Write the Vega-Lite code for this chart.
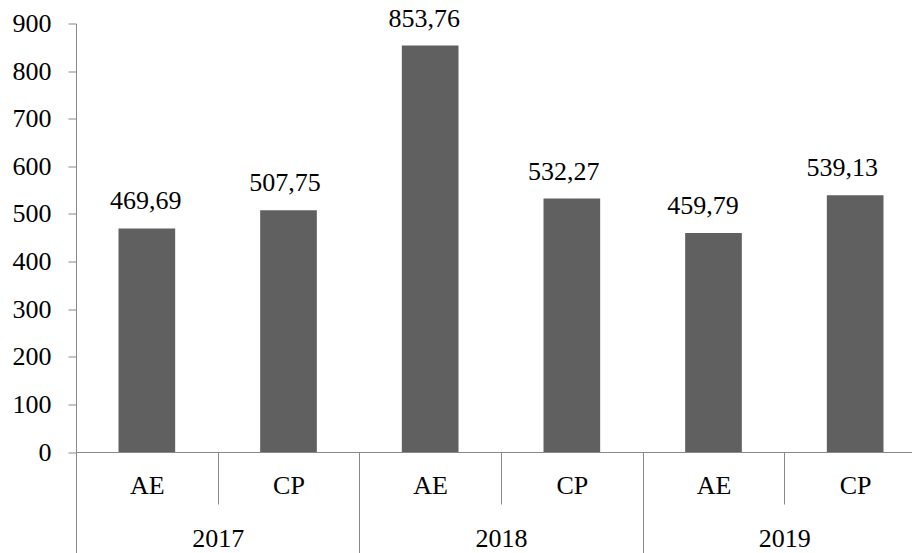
{
  "$schema": "https://vega.github.io/schema/vega-lite/v6.json",
  "width": 836,
  "height": 428.5,
  "autosize": {"type": "none"},
  "padding": {"left": 76, "top": 23.5, "right": 0, "bottom": 101},
  "background": "white",
  "data": {
    "values": [
      {"id": "2017 AE", "year": "2017", "type": "AE", "value": 469.69},
      {"id": "2017 CP", "year": "2017", "type": "CP", "value": 507.75},
      {"id": "2018 AE", "year": "2018", "type": "AE", "value": 853.76},
      {"id": "2018 CP", "year": "2018", "type": "CP", "value": 532.27},
      {"id": "2019 AE", "year": "2019", "type": "AE", "value": 459.79},
      {"id": "2019 CP", "year": "2019", "type": "CP", "value": 539.13}
    ]
  },
  "config": {
    "locale": {
      "number": {"decimal": ",", "thousands": ".", "grouping": [3], "currency": ["", " €"]}
    },
    "font": "Liberation Serif",
    "view": {"stroke": null},
    "axis": {
      "labelFont": "Liberation Serif",
      "labelFontSize": 26,
      "labelColor": "#000000",
      "domainColor": "#898989",
      "tickColor": "#898989",
      "domainWidth": 1,
      "tickWidth": 1,
      "grid": false,
      "title": null
    }
  },
  "layer": [
    {
      "mark": {"type": "bar", "color": "#606060", "width": {"band": 0.4}},
      "encoding": {
        "x": {
          "field": "id",
          "type": "nominal",
          "sort": null,
          "scale": {"range": [0, 850], "paddingInner": 0, "paddingOuter": 0},
          "axis": {
            "orient": "bottom",
            "labelAngle": 0,
            "labelFont": "Liberation Serif",
            "labelExpr": "split(datum.label, ' ')[1]",
            "tickBand": "extent",
            "tickSize": 52,
            "labelPadding": -19,
            "labelBaseline": "middle",
            "labelOverlap": false,
            "labelFlush": false
          }
        },
        "y": {
          "field": "value",
          "type": "quantitative",
          "scale": {"domain": [0, 900], "nice": false},
          "axis": {
            "values": [0, 100, 200, 300, 400, 500, 600, 700, 800, 900],
            "labelFont": "Liberation Serif",
            "tickSize": 8,
            "labelPadding": 17,
            "labelBaseline": "middle"
          }
        }
      }
    },
    {
      "mark": {
        "type": "text",
        "font": "Liberation Serif",
        "fontSize": 26,
        "color": "#000000",
        "baseline": "alphabetic",
        "align": "center",
        "dy": -19
      },
      "encoding": {
        "x": {"field": "id", "type": "nominal", "sort": null, "axis": null},
        "y": {"field": "value", "type": "quantitative"},
        "text": {"field": "value", "type": "quantitative", "format": ".2f"}
      }
    },
    {
      "mark": {"type": "point", "opacity": 0},
      "encoding": {
        "x": {
          "field": "year",
          "type": "nominal",
          "sort": null,
          "scale": {"range": [0, 850], "paddingInner": 0, "paddingOuter": 0},
          "axis": {
            "orient": "bottom",
            "labelAngle": 0,
            "labelFont": "Liberation Serif",
            "domain": false,
            "tickBand": "extent",
            "tickSize": 101,
            "labelPadding": -15,
            "labelBaseline": "middle",
            "labelOverlap": false,
            "labelFlush": false
          }
        },
        "y": {"field": "value", "type": "quantitative"}
      }
    }
  ],
  "resolve": {"scale": {"x": "independent"}, "axis": {"x": "independent"}}
}
